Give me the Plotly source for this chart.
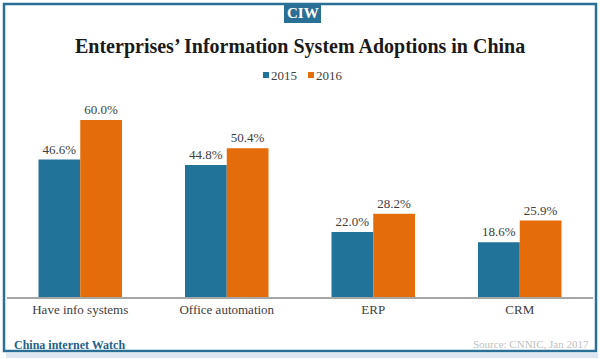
import plotly.graph_objects as go

categories = ["Have info systems", "Office automation", "ERP", "CRM"]
values_2015 = [46.6, 44.8, 22.0, 18.6]
values_2016 = [60.0, 50.4, 28.2, 25.9]
series_names = ["2015", "2016"]

W, H = 600, 359
ML, MR, MT, MB = 7, 7, 100, 62
PW, PH = W - ML - MR, H - MT - MB


def px(x):
    return (x - ML) / PW


def py(y):
    return (H - MB - y) / PH


SERIF = "Liberation Serif"
BLUE = "#21739a"
ORANGE = "#e46c0a"
colors = [BLUE, ORANGE]

fig = go.Figure()
for name, vals, col in zip(series_names, [values_2015, values_2016], colors):
    fig.add_trace(go.Bar(
        x=categories, y=vals, name=name, marker=dict(color=col, line=dict(width=0)),
        text=[f"{v:.1f}%" for v in vals], textposition="outside",
        textfont=dict(family=SERIF, size=13, color="#404040"), cliponaxis=False,
    ))

fig.update_layout(
    width=W, height=H, margin=dict(l=ML, r=MR, t=MT, b=MB),
    paper_bgcolor="white", plot_bgcolor="white",
    barmode="group", bargap=0.43, bargroupgap=0,
    showlegend=False,
    xaxis=dict(showgrid=False, showline=True, linecolor="#a6a6a6", linewidth=1.5,
               ticks="", tickfont=dict(family=SERIF, size=13, color="#404040")),
    yaxis=dict(range=[0, 66.8], visible=False, showgrid=False),
)

# legend (drawn manually to match the compact original)
legend_items = [(263, 269), (308, 314)]
for (sx, tx), name, col in zip(legend_items, series_names, colors):
    fig.add_shape(type="rect", xref="paper", yref="paper",
                  x0=px(sx), x1=px(sx + 6), y0=py(78), y1=py(72),
                  line=dict(width=0), fillcolor=col)
    fig.add_annotation(x=px(tx), y=py(75.5), xref="paper", yref="paper", text=name,
                       showarrow=False, xanchor="left", yanchor="middle",
                       font=dict(family=SERIF, size=13, color="#404040"))

# frame
fig.add_shape(type="rect", xref="paper", yref="paper",
              x0=px(4), x1=px(596), y0=py(351), y1=py(4),
              line=dict(color="#2a6f96", width=2.5), fillcolor="rgba(0,0,0,0)", layer="below")
# shadow beneath frame
fig.add_shape(type="rect", xref="paper", yref="paper",
              x0=px(6), x1=px(598), y0=py(358), y1=py(353),
              line=dict(width=0), fillcolor="rgba(120,160,200,0.25)", layer="below")
# badge
fig.add_shape(type="rect", xref="paper", yref="paper",
              x0=px(284), x1=px(321), y0=py(23), y1=py(3),
              line=dict(width=0), fillcolor="#2a6f96")
fig.add_annotation(x=px(302.5), y=py(13.5), xref="paper", yref="paper", text="<b>CIW</b>",
                   showarrow=False, xanchor="center", yanchor="middle",
                   font=dict(family=SERIF, size=15, color="white"))
# title
fig.add_annotation(x=0.5, y=py(47), xref="paper", yref="paper",
                   text="<b>Enterprises’ Information System Adoptions in China</b>",
                   showarrow=False, xanchor="center", yanchor="middle",
                   font=dict(family=SERIF, size=20, color="#1a1a1a"))
# footer
fig.add_annotation(x=px(12), y=py(345), xref="paper", yref="paper",
                   text="<b>China internet Watch</b>", showarrow=False,
                   xanchor="left", yanchor="middle",
                   font=dict(family=SERIF, size=12, color="#1f5f8b"))
fig.add_annotation(x=px(591), y=py(344), xref="paper", yref="paper",
                   text="Source: CNNIC, Jan 2017", showarrow=False,
                   xanchor="right", yanchor="middle",
                   font=dict(family=SERIF, size=11, color="#c0c0c0"))

fig.write_html("out.html", config={"displayModeBar": False},
               post_script="document.body.style.margin='0px';document.body.style.overflow='hidden';")
